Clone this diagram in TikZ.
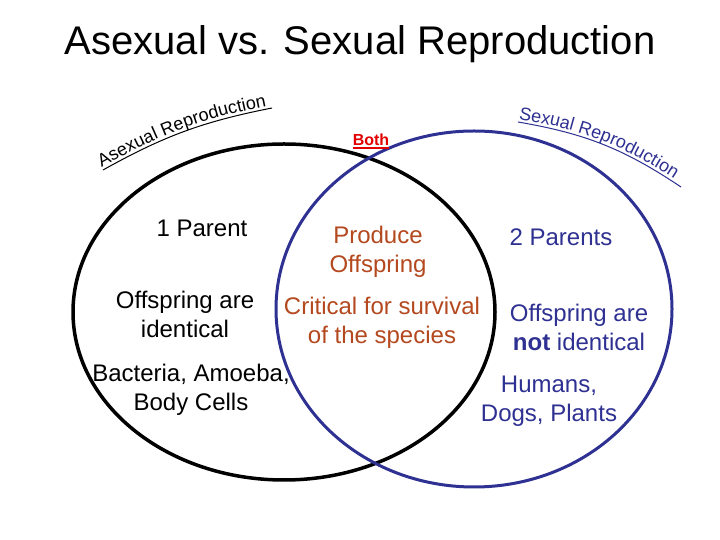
\documentclass[tikz,border=0pt]{standalone}
\usepackage{fontspec}
\setmainfont{Liberation Sans}
\usetikzlibrary{decorations.text}
\definecolor{venblue}{RGB}{46,49,146}
\definecolor{venbrown}{RGB}{180,72,30}
\definecolor{venred}{RGB}{226,0,0}
\begin{document}
\begin{tikzpicture}[x=1pt,y=1pt,
  body/.style={font=\fontsize{24}{29}\selectfont, align=center, anchor=base, inner sep=0pt},
  leftset/.style={line width=3.5pt, draw=black},
  rightset/.style={line width=3pt, draw=venblue},
  arclabel/.style={decorate, decoration={text along path, raise=3pt, text align=left}}]
\path[fill=white] (0,0) rectangle (720,540);
\useasboundingbox (0,0) rectangle (720,540);
% sets
\draw[leftset] (284,228) ellipse [x radius=211, y radius=168];
\draw[rightset] (474,231) ellipse [x radius=198, y radius=178];
% title
\node[anchor=base, inner sep=0pt, font=\fontsize{40}{48}\selectfont] (title) at (360,485) {Asexual vs. Sexual Reproduction};
% curved set labels
\coordinate (aslA) at (103,370);
\coordinate (aslB) at (272,432);
\draw[line width=1pt] (aslA) to[bend left=9] (aslB);
\path[arclabel, decoration={text={|\fontsize{18}{18}\selectfont|Asexual Reproduction}}] (aslA) to[bend left=9] (aslB);
\coordinate (sxlA) at (518,418);
\coordinate (sxlB) at (681,353);
\draw[line width=1pt, venblue] (sxlA) to[bend left=12] (sxlB);
\path[arclabel, decoration={text color=venblue, text={|\fontsize{18}{18}\selectfont|Sexual Reproduction}}] (sxlA) to[bend left=12] (sxlB);
% Both
\node[anchor=base, inner sep=0pt, font=\fontsize{16}{16}\selectfont\bfseries, text=venred] (both) at (371,394) {Both};
\draw[venred, line width=1.2pt] ([yshift=-2pt]both.base west) -- ([yshift=-2pt]both.base east);
% asexual side
\node[body] (oneparent) at (202,303) {1 Parent};
\node[body] (offsame) at (185,202) {Offspring are\\identical};
\node[body] (examplesA) at (191,129) {Bacteria, Amoeba,\\Body Cells};
% both
\node[body, text=venbrown] (produce) at (378,267) {Produce\\Offspring};
\node[body, text=venbrown] (critical) at (382,196) {Critical for survival\\of the species};
% sexual side
\node[body, text=venblue] (twoparents) at (561,294) {2 Parents};
\node[body, text=venblue] (offdiff) at (579,189) {Offspring are\\\textbf{not} identical};
\node[body, text=venblue] (examplesS) at (549,118) {Humans,\\Dogs, Plants};
\end{tikzpicture}
\end{document}
